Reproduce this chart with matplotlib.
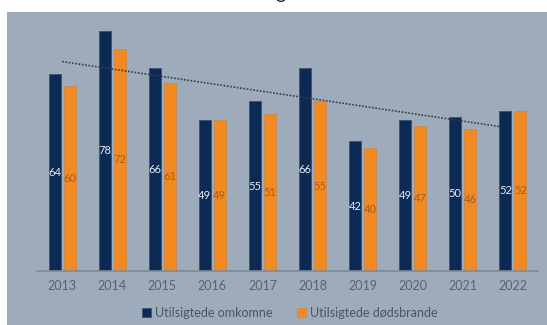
import numpy as np
import matplotlib.pyplot as plt
from matplotlib.patches import Rectangle

# data: ulykkelige brandomkomne og dødsbrande pr. år
years = ["2013", "2014", "2015", "2016", "2017", "2018", "2019", "2020", "2021", "2022"]
omkomne = [64, 78, 66, 49, 55, 66, 42, 49, 50, 52]
doedsbrande = [60, 72, 61, 49, 51, 55, 40, 47, 46, 52]

navy = "#0d2a55"
orange = "#f28a1f"
panel = "#9dabbb"

plt.rcParams['font.family'] = ['Lato', 'DejaVu Sans']

fig = plt.figure(figsize=(5.47, 3.25), dpi=100)
fig.patch.set_facecolor("white")

# grey-blue backdrop behind the chart
fig.patches.append(Rectangle((7/547, 0), 1 - 7/547, (325 - 12)/325,
                             transform=fig.transFigure, facecolor=panel,
                             edgecolor="none", zorder=-5))

# remnant of the title above the frame
fig.text(280/547, 1 + 1.5/325, "g", ha="center", va="baseline",
         fontsize=14, color="#222222")

ax = fig.add_axes([37/547, 54.3/325, 501/547, 261.5/325])
ax.set_facecolor("none")
ax.set_zorder(2)

x = np.arange(len(years))
w = 0.24
off = 0.15
b1 = ax.bar(x - off, omkomne, w, color=navy, edgecolor="#3b5272", linewidth=0.6,
            label="Utilsigtede omkomne", zorder=2)
b2 = ax.bar(x + off, doedsbrande, w, color=orange, edgecolor="#c98a4e", linewidth=0.6,
            label="Utilsigtede dødsbrande", zorder=2)

# værdier midt i søjlerne
for xi, v in zip(x, omkomne):
    ax.text(xi - off, v / 2, str(v), ha="center", va="center", fontsize=8,
            color="#e8edf4", zorder=3)
for xi, v in zip(x, doedsbrande):
    ax.text(xi + off, v / 2, str(v), ha="center", va="center", fontsize=8,
            color="#a65d22", zorder=3)

# lineær trendlinje for omkomne
k, m0 = np.polyfit(x, omkomne, 1)
xt = np.array([0, 8.75])
ax.plot(xt, k * xt + m0, linestyle=(0, (1, 1)), color="#34404e", linewidth=1.2, zorder=4)

ax.set_xlim(-0.5, 9.5)
ax.set_ylim(0, 85)
ax.set_yticks([])
ax.set_xticks(x)
ax.set_xticklabels(years, fontsize=9, color="#58636f")
ax.tick_params(axis="x", length=0, pad=7)
for s in ["top", "right", "left"]:
    ax.spines[s].set_visible(False)
ax.spines["bottom"].set_color("#7f8a97")
ax.spines["bottom"].set_linewidth(1.2)

leg = fig.legend(handles=[b1, b2], loc="center", bbox_to_anchor=(290/547, 12/325),
                 ncol=2, frameon=False, fontsize=9, handlelength=0.7, handleheight=0.7,
                 handletextpad=0.3, columnspacing=2.0)
for t in leg.get_texts():
    t.set_color("#4b5562")

fig.savefig("out.png", dpi=100)
